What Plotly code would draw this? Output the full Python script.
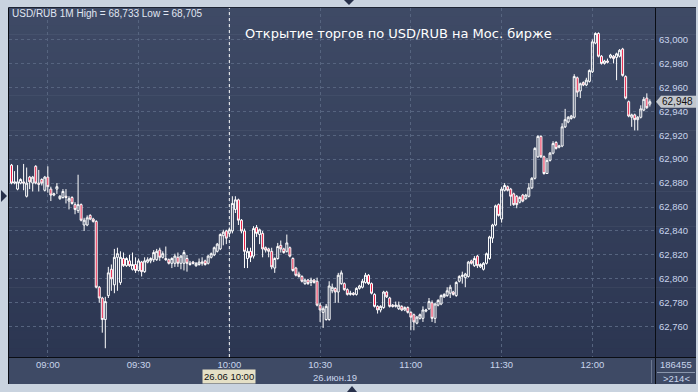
import plotly.graph_objects as go
import pandas as pd

# ---------------- data (1-minute USD/RUB candles, 26.06.2019) ----------------
open_ = [62.895, 62.880, 62.875, 62.880, 62.881, 62.869, 62.885, 62.880, 62.894, 62.880,
         62.883, 62.874, 62.885, 62.875, 62.870, 62.875, 62.867, 62.868, 62.869, 62.865,
         62.868, 62.862, 62.857, 62.862, 62.845, 62.845, 62.853, 62.850, 62.848, 62.793,
         62.784, 62.766, 62.786, 62.808, 62.795, 62.818, 62.797, 62.817, 62.811, 62.815,
         62.808, 62.812, 62.807, 62.814, 62.806, 62.814, 62.815, 62.816, 62.816, 62.824,
         62.818, 62.817, 62.816, 62.813, 62.813, 62.818, 62.813, 62.813, 62.817, 62.813,
         62.814, 62.811, 62.812, 62.813, 62.815, 62.813, 62.818, 62.820, 62.823, 62.825,
         62.836, 62.840, 62.838, 62.840, 62.858, 62.866, 62.849, 62.840, 62.817, 62.823,
         62.819, 62.843, 62.837, 62.838, 62.826, 62.825, 62.823, 62.809, 62.817, 62.828,
         62.825, 62.823, 62.826, 62.817, 62.809, 62.804, 62.802, 62.796, 62.799, 62.797,
         62.799, 62.798, 62.778, 62.772, 62.766, 62.766, 62.790, 62.792, 62.789, 62.796,
         62.796, 62.791, 62.787, 62.788, 62.787, 62.792, 62.793, 62.797, 62.803, 62.796,
         62.787, 62.777, 62.774, 62.776, 62.789, 62.784, 62.778, 62.777, 62.775, 62.777,
         62.774, 62.776, 62.772, 62.770, 62.763, 62.767, 62.767, 62.773, 62.775, 62.780,
         62.767, 62.778, 62.779, 62.785, 62.786, 62.788, 62.789, 62.786, 62.798, 62.802,
         62.801, 62.802, 62.815, 62.811, 62.819, 62.810, 62.808, 62.813, 62.817, 62.834,
         62.845, 62.862, 62.850, 62.874, 62.877, 62.875, 62.871, 62.869, 62.864, 62.870,
         62.867, 62.869, 62.876, 62.884, 62.902, 62.919, 62.902, 62.888, 62.899, 62.905,
         62.914, 62.910, 62.911, 62.927, 62.931, 62.934, 62.935, 62.968, 62.957, 62.964,
         62.962, 62.965, 62.973, 62.997, 63.005, 62.986, 62.980, 62.982, 62.985, 62.986,
         62.985, 62.986, 62.992, 62.969, 62.948, 62.935, 62.937, 62.933, 62.935, 62.941,
         62.951, 62.946]
high = [62.896, 62.890, 62.895, 62.884, 62.896, 62.893, 62.886, 62.886, 62.895, 62.891,
        62.884, 62.886, 62.894, 62.877, 62.872, 62.880, 62.870, 62.875, 62.875, 62.869,
        62.869, 62.864, 62.887, 62.863, 62.851, 62.853, 62.854, 62.851, 62.849, 62.794,
        62.785, 62.785, 62.810, 62.812, 62.825, 62.826, 62.823, 62.822, 62.818, 62.820,
        62.822, 62.818, 62.817, 62.815, 62.818, 62.818, 62.818, 62.824, 62.825, 62.826,
        62.823, 62.827, 62.817, 62.818, 62.821, 62.822, 62.820, 62.824, 62.820, 62.815,
        62.815, 62.814, 62.817, 62.818, 62.816, 62.820, 62.822, 62.827, 62.830, 62.838,
        62.841, 62.841, 62.843, 62.869, 62.869, 62.867, 62.850, 62.842, 62.826, 62.826,
        62.844, 62.845, 62.842, 62.840, 62.827, 62.826, 62.826, 62.818, 62.830, 62.832,
        62.826, 62.837, 62.827, 62.818, 62.810, 62.806, 62.803, 62.800, 62.800, 62.801,
        62.800, 62.801, 62.780, 62.777, 62.779, 62.798, 62.796, 62.793, 62.805, 62.807,
        62.797, 62.792, 62.790, 62.789, 62.793, 62.795, 62.800, 62.805, 62.804, 62.797,
        62.788, 62.778, 62.778, 62.790, 62.790, 62.785, 62.779, 62.781, 62.781, 62.778,
        62.777, 62.777, 62.773, 62.771, 62.769, 62.771, 62.777, 62.775, 62.784, 62.782,
        62.780, 62.783, 62.787, 62.788, 62.793, 62.795, 62.790, 62.798, 62.803, 62.806,
        62.805, 62.815, 62.816, 62.819, 62.820, 62.813, 62.814, 62.822, 62.836, 62.846,
        62.862, 62.863, 62.877, 62.880, 62.878, 62.876, 62.872, 62.870, 62.869, 62.871,
        62.871, 62.880, 62.885, 62.910, 62.920, 62.920, 62.903, 62.901, 62.906, 62.915,
        62.915, 62.912, 62.930, 62.942, 62.936, 62.937, 62.971, 62.969, 62.964, 62.965,
        62.968, 62.975, 63.000, 63.006, 63.006, 62.987, 62.983, 62.984, 62.988, 62.987,
        62.989, 62.992, 62.993, 62.970, 62.949, 62.938, 62.938, 62.936, 62.945, 62.952,
        62.955, 62.950]
low = [62.879, 62.879, 62.874, 62.879, 62.874, 62.868, 62.875, 62.873, 62.879, 62.873,
       62.878, 62.873, 62.872, 62.865, 62.869, 62.871, 62.866, 62.867, 62.863, 62.858,
       62.862, 62.854, 62.855, 62.848, 62.840, 62.844, 62.849, 62.847, 62.792, 62.780,
       62.755, 62.742, 62.784, 62.790, 62.788, 62.790, 62.795, 62.810, 62.810, 62.810,
       62.807, 62.805, 62.806, 62.802, 62.805, 62.813, 62.813, 62.814, 62.815, 62.815,
       62.817, 62.815, 62.812, 62.809, 62.810, 62.810, 62.808, 62.807, 62.806, 62.811,
       62.812, 62.810, 62.811, 62.811, 62.811, 62.812, 62.817, 62.819, 62.822, 62.824,
       62.828, 62.829, 62.836, 62.838, 62.855, 62.845, 62.838, 62.809, 62.809, 62.814,
       62.817, 62.835, 62.829, 62.818, 62.822, 62.818, 62.808, 62.805, 62.816, 62.822,
       62.821, 62.822, 62.818, 62.806, 62.802, 62.801, 62.797, 62.795, 62.795, 62.794,
       62.796, 62.777, 62.764, 62.759, 62.765, 62.765, 62.788, 62.780, 62.780, 62.795,
       62.790, 62.786, 62.786, 62.786, 62.786, 62.791, 62.792, 62.796, 62.795, 62.787,
       62.776, 62.771, 62.772, 62.775, 62.784, 62.776, 62.776, 62.776, 62.774, 62.773,
       62.773, 62.771, 62.757, 62.757, 62.762, 62.766, 62.764, 62.772, 62.774, 62.764,
       62.763, 62.777, 62.778, 62.784, 62.785, 62.784, 62.786, 62.785, 62.797, 62.796,
       62.793, 62.801, 62.812, 62.810, 62.809, 62.809, 62.807, 62.812, 62.816, 62.830,
       62.844, 62.852, 62.847, 62.873, 62.873, 62.861, 62.861, 62.859, 62.863, 62.864,
       62.866, 62.868, 62.875, 62.883, 62.901, 62.901, 62.887, 62.888, 62.898, 62.904,
       62.908, 62.909, 62.910, 62.926, 62.930, 62.933, 62.934, 62.952, 62.951, 62.961,
       62.961, 62.964, 62.972, 62.996, 62.985, 62.979, 62.979, 62.980, 62.984, 62.980,
       62.966, 62.985, 62.969, 62.950, 62.935, 62.927, 62.924, 62.924, 62.934, 62.940,
       62.942, 62.944]
close = [62.880, 62.881, 62.881, 62.883, 62.880, 62.880, 62.881, 62.885, 62.880, 62.879,
         62.880, 62.885, 62.877, 62.870, 62.871, 62.877, 62.869, 62.873, 62.868, 62.867,
         62.863, 62.858, 62.862, 62.849, 62.849, 62.851, 62.850, 62.848, 62.793, 62.784,
         62.766, 62.781, 62.805, 62.800, 62.818, 62.821, 62.818, 62.811, 62.817, 62.811,
         62.812, 62.807, 62.815, 62.806, 62.815, 62.816, 62.817, 62.822, 62.823, 62.818,
         62.821, 62.816, 62.813, 62.817, 62.819, 62.813, 62.819, 62.822, 62.813, 62.812,
         62.813, 62.813, 62.814, 62.814, 62.812, 62.819, 62.821, 62.826, 62.829, 62.837,
         62.839, 62.834, 62.841, 62.863, 62.866, 62.849, 62.840, 62.823, 62.823, 62.818,
         62.842, 62.838, 62.841, 62.825, 62.824, 62.823, 62.810, 62.817, 62.827, 62.825,
         62.822, 62.830, 62.819, 62.807, 62.803, 62.802, 62.798, 62.799, 62.796, 62.799,
         62.797, 62.778, 62.774, 62.775, 62.777, 62.794, 62.793, 62.789, 62.803, 62.805,
         62.791, 62.787, 62.788, 62.787, 62.792, 62.794, 62.798, 62.803, 62.796, 62.788,
         62.777, 62.774, 62.777, 62.789, 62.785, 62.777, 62.777, 62.778, 62.778, 62.774,
         62.776, 62.772, 62.768, 62.764, 62.768, 62.770, 62.774, 62.774, 62.781, 62.767,
         62.779, 62.782, 62.786, 62.787, 62.790, 62.793, 62.787, 62.797, 62.802, 62.803,
         62.804, 62.814, 62.813, 62.817, 62.811, 62.812, 62.813, 62.821, 62.835, 62.845,
         62.861, 62.853, 62.875, 62.878, 62.874, 62.869, 62.862, 62.862, 62.868, 62.865,
         62.870, 62.876, 62.884, 62.909, 62.919, 62.902, 62.888, 62.899, 62.905, 62.913,
         62.909, 62.911, 62.927, 62.933, 62.935, 62.936, 62.969, 62.956, 62.963, 62.962,
         62.966, 62.974, 62.998, 63.005, 62.986, 62.980, 62.982, 62.981, 62.987, 62.984,
         62.988, 62.991, 62.970, 62.951, 62.936, 62.937, 62.933, 62.935, 62.942, 62.950,
         62.943, 62.948]
times = pd.date_range("2019-06-26 08:48", periods=len(close), freq="min")

x_tick_vals = ["2019-06-26 09:00", "2019-06-26 09:30", "2019-06-26 10:00", "2019-06-26 10:30",
               "2019-06-26 11:00", "2019-06-26 11:30", "2019-06-26 12:00"]
x_tick_text = ["09:00", "09:30", "10:00", "10:30", "11:00", "11:30", "12:00"]
y_tick_vals = [62.76, 62.78, 62.80, 62.82, 62.84, 62.86, 62.88, 62.90, 62.92, 62.94, 62.96, 62.98, 63.00]
y_tick_text = ["62,760", "62,780", "62,800", "62,820", "62,840", "62,860", "62,880", "62,900",
               "62,920", "62,940", "62,960", "62,980", "63,000"]
last_price = 62.948
last_price_text = "62,948"
cursor_time = "2019-06-26 10:00"
cursor_label = "26.06 10:00"
date_label = "26.июн.19"
header = "USD/RUB 1M High = 68,733 Low = 68,705"
title = "Открытие торгов по USD/RUB на Мос. бирже"
volume_text = "186455"
bars_text = ">214<"

# ---------------- layout geometry ----------------
W, H = 698, 392
ML, MR, MT, MB = 9, 43, 8, 35
PW, PH = W - ML - MR, H - MT - MB


def px(x):
    return (x - ML) / PW


def py(y):
    return (H - MB - y) / PH


YMIN, YMAX = 62.7347, 63.0263
XMIN = pd.Timestamp("2019-06-26 08:47:10")
XMAX = pd.Timestamp("2019-06-26 12:20:42")

fig = go.Figure()
fig.add_trace(go.Candlestick(
    x=times, open=open_, high=high, low=low, close=close,
    increasing=dict(line=dict(color="#ffffff", width=1), fillcolor="rgba(0,0,0,0)"),
    decreasing=dict(line=dict(color="#ffffff", width=1), fillcolor="#e8103a"),
    whiskerwidth=0, hoverinfo="skip",
))

shapes = []
# gradient background of plot + right label strip
N = 40
c0, c1 = (62, 74, 101), (44, 54, 82)
for k in range(N):
    t = k / (N - 1)
    col = "rgb(%d,%d,%d)" % tuple(round(c0[j] + (c1[j] - c0[j]) * t) for j in range(3))
    y0 = MT + k * PH / N
    y1 = MT + (k + 1) * PH / N + 0.6
    shapes.append(dict(type="rect", xref="paper", yref="paper", x0=px(9), x1=px(696),
                       y0=py(y1), y1=py(y0), fillcolor=col, line=dict(width=0), layer="below"))
# bottom time strip
shapes.append(dict(type="rect", xref="paper", yref="paper", x0=px(9), x1=px(696),
                   y0=py(384), y1=py(357), fillcolor="#3e4a65", line=dict(width=0), layer="below"))
# frame lines
line_black = dict(color="#0a0d14", width=1)
shapes += [
    dict(type="line", xref="paper", yref="paper", x0=px(8.5), x1=px(8.5), y0=py(384), y1=py(7.5), line=line_black),
    dict(type="line", xref="paper", yref="paper", x0=px(655.5), x1=px(655.5), y0=py(384), y1=py(7.5), line=line_black),
    dict(type="line", xref="paper", yref="paper", x0=px(8.5), x1=px(696), y0=py(357.5), y1=py(357.5), line=line_black),
    dict(type="line", xref="paper", yref="paper", x0=px(8.5), x1=px(696), y0=py(7.5), y1=py(7.5),
         line=dict(color="#1d2433", width=1)),
    dict(type="line", xref="paper", yref="paper", x0=px(651.5), x1=px(651.5), y0=py(383), y1=py(360),
         line=dict(color="#6c7890", width=1)),
    dict(type="line", xref="paper", yref="paper", x0=px(657), x1=px(695), y0=py(372.5), y1=py(372.5),
         line=dict(color="#8a96ac", width=1)),
]
# crosshair
shapes.append(dict(type="line", xref="x", yref="paper", x0=cursor_time, x1=cursor_time, y0=0, y1=1,
                   line=dict(color="#ffffff", width=1, dash="3px,3px")))
# last price tag
yl = 39.5 + (63.0 - last_price) * 1196.7
path = "M %f %f L %f %f L %f %f L %f %f L %f %f Z" % (
    px(656), py(yl), px(661), py(yl - 6), px(696), py(yl - 6), px(696), py(yl + 6), px(661), py(yl + 6))
shapes.append(dict(type="path", xref="paper", yref="paper", path=path, fillcolor="#c3c7cd",
                   line=dict(width=0)))
# frame arrows
tri = "#27304a"
shapes.append(dict(type="path", xref="paper", yref="paper",
                   path="M %f %f L %f %f L %f %f Z" % (px(344), py(0), px(354), py(0), px(349), py(5)),
                   fillcolor=tri, line=dict(width=0)))
shapes.append(dict(type="path", xref="paper", yref="paper",
                   path="M %f %f L %f %f L %f %f Z" % (px(347), py(392), px(357), py(392), px(352), py(386)),
                   fillcolor=tri, line=dict(width=0)))
shapes.append(dict(type="path", xref="paper", yref="paper",
                   path="M %f %f L %f %f L %f %f Z" % (px(1), py(190), px(1), py(202), px(7), py(196)),
                   fillcolor=tri, line=dict(width=0)))

lbl = "#c9d5ec"
annotations = [
    dict(text=header, xref="paper", yref="paper", x=px(10), y=py(14), xanchor="left", yanchor="middle",
         showarrow=False, font=dict(family="Liberation Sans", size=10, color="#e0e6f2")),
    dict(text=title, xref="paper", yref="paper", x=px(398), y=py(34), xanchor="center", yanchor="middle",
         showarrow=False, font=dict(family="DejaVu Sans", size=13, color="#ffffff")),
    dict(text=last_price_text, xref="paper", yref="paper", x=px(677), y=py(yl), xanchor="center",
         yanchor="middle", showarrow=False, font=dict(family="Liberation Sans", size=10, color="#111111")),
    dict(text=cursor_label, xref="x", yref="paper", x=cursor_time, y=py(376.5), xanchor="center",
         yanchor="middle", showarrow=False, bgcolor="#e5e0c6", borderpad=1,
         font=dict(family="Liberation Sans", size=9.5, color="#111111")),
    dict(text=date_label, xref="paper", yref="paper", x=px(335), y=py(377), xanchor="center",
         yanchor="middle", showarrow=False, font=dict(family="Liberation Sans", size=9.5, color=lbl)),
    dict(text=volume_text, xref="paper", yref="paper", x=px(676), y=py(364.5), xanchor="center",
         yanchor="middle", showarrow=False, font=dict(family="Liberation Sans", size=9.5, color=lbl)),
    dict(text=bars_text, xref="paper", yref="paper", x=px(676), y=py(378.5), xanchor="center",
         yanchor="middle", showarrow=False, font=dict(family="Liberation Sans", size=9.5, color=lbl)),
]

grid = "#56647f"
fig.update_layout(
    width=W, height=H, margin=dict(l=ML, r=MR, t=MT, b=MB, pad=0),
    paper_bgcolor="#c9d3df", plot_bgcolor="rgba(0,0,0,0)",
    showlegend=False, hovermode=False, boxgap=0.08,
    shapes=shapes, annotations=annotations,
    xaxis=dict(type="date", range=[XMIN, XMAX], tickvals=x_tick_vals, ticktext=x_tick_text,
               showgrid=True, gridcolor=grid, gridwidth=1, griddash="3px,3px", zeroline=False,
               showline=False, ticks="", rangeslider=dict(visible=False), fixedrange=True,
               tickfont=dict(family="Liberation Sans", size=9.5, color=lbl)),
    yaxis=dict(side="right", range=[YMIN, YMAX], tickvals=y_tick_vals, ticktext=y_tick_text,
               showgrid=True, gridcolor=grid, gridwidth=1, griddash="3px,3px", zeroline=False,
               showline=False, ticks="", ticklabelstandoff=3, fixedrange=True,
               tickfont=dict(family="Liberation Sans", size=9.5, color=lbl)),
)

fig.write_html("out.html", config={"displayModeBar": False},
               post_script="document.body.style.margin='0';document.body.style.overflow='hidden';")
